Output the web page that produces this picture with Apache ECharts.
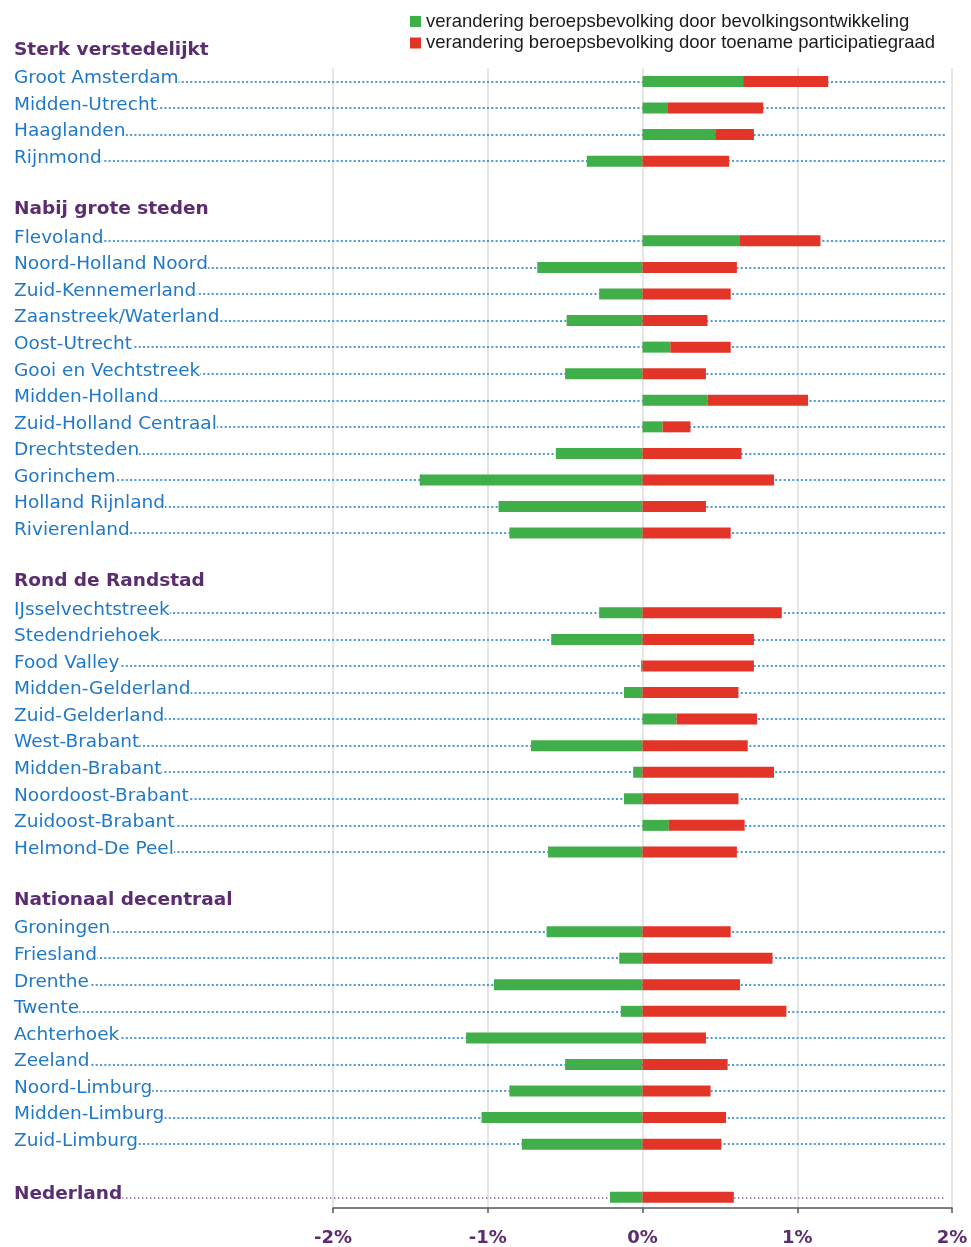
<!DOCTYPE html>
<html>
<head>
<meta charset="utf-8">
<script src="https://cdn.jsdelivr.net/npm/echarts@6/dist/echarts.min.js"></script>
<style>
  html, body { margin: 0; padding: 0; background: #fff; }
  #chart { width: 971px; height: 1247px; }
</style>
</head>
<body>
<div id="chart"></div>
<script>
// ---- data ----
const categories = [
  'Sterk verstedelijkt',
  'Groot Amsterdam', 'Midden-Utrecht', 'Haaglanden', 'Rijnmond',
  '',
  'Nabij grote steden',
  'Flevoland', 'Noord-Holland Noord', 'Zuid-Kennemerland', 'Zaanstreek/Waterland', 'Oost-Utrecht',
  'Gooi en Vechtstreek', 'Midden-Holland', 'Zuid-Holland Centraal', 'Drechtsteden', 'Gorinchem',
  'Holland Rijnland', 'Rivierenland',
  ' ',
  'Rond de Randstad',
  'IJsselvechtstreek', 'Stedendriehoek', 'Food Valley', 'Midden-Gelderland', 'Zuid-Gelderland',
  'West-Brabant', 'Midden-Brabant', 'Noordoost-Brabant', 'Zuidoost-Brabant', 'Helmond-De Peel',
  '  ',
  'Nationaal decentraal',
  'Groningen', 'Friesland', 'Drenthe', 'Twente', 'Achterhoek', 'Zeeland',
  'Noord-Limburg', 'Midden-Limburg', 'Zuid-Limburg',
  '   ',
  'Nederland'
];
const headers = ['Sterk verstedelijkt', 'Nabij grote steden', 'Rond de Randstad', 'Nationaal decentraal'];
const totalRow = 'Nederland';

// change in labour force due to population development (%)
const bevolking = [
  null,
  0.65, 0.16, 0.47, -0.36,
  null,
  null,
  0.63, -0.68, -0.28, -0.49, 0.18, -0.50, 0.42, 0.13, -0.56, -1.44, -0.93, -0.86,
  null,
  null,
  -0.28, -0.59, -0.01, -0.12, 0.22, -0.72, -0.06, -0.12, 0.17, -0.61,
  null,
  null,
  -0.62, -0.15, -0.96, -0.14, -1.14, -0.50, -0.86, -1.04, -0.78,
  null,
  -0.21
];
// change in labour force due to rising participation rate (%)
const participatie = [
  null,
  0.55, 0.62, 0.25, 0.56,
  null,
  null,
  0.52, 0.61, 0.57, 0.42, 0.39, 0.41, 0.65, 0.18, 0.64, 0.85, 0.41, 0.57,
  null,
  null,
  0.90, 0.72, 0.72, 0.62, 0.52, 0.68, 0.85, 0.62, 0.49, 0.61,
  null,
  null,
  0.57, 0.84, 0.63, 0.93, 0.41, 0.55, 0.44, 0.54, 0.51,
  null,
  0.59
];
const seriesNames = [
  'verandering beroepsbevolking door bevolkingsontwikkeling',
  'verandering beroepsbevolking door toename participatiegraad'
];
const xTicks = [-2, -1, 0, 1, 2];

// ---- styles ----
const BLUE = '#1f78c8';
const PURPLE = '#5b2c6f';
const GREEN = '#40ae49';
const RED = '#e23527';
const LABEL_FONT = 'DejaVu Sans';

const gridTop = 41.6, gridBottom = 36.4;

const leaderData = categories
  .filter(c => c.trim() !== '' && headers.indexOf(c) < 0)
  .map(c => c === totalRow
    ? { yAxis: c, lineStyle: { color: '#8f6f9c', width: 1.5, type: [1.5, 2.5] } }
    : { yAxis: c });

const chart = echarts.init(document.getElementById('chart'), null, { renderer: 'canvas' });
chart.setOption({
  animation: false,
  backgroundColor: '#fff',
  legend: {
    orient: 'vertical',
    left: 405,
    top: 7,
    itemWidth: 11,
    itemHeight: 11,
    itemGap: 2.5,
    icon: 'rect',
    selectedMode: false,
    textStyle: { fontFamily: 'Liberation Sans', fontSize: 18.5, color: '#1a1a1a' },
    data: seriesNames
  },
  grid: [
    { left: 333, right: 19, top: gridTop, bottom: gridBottom },   // bars
    { left: 14, right: 26, top: gridTop, bottom: gridBottom },    // labels + leaders
    { left: 333, right: 19, top: 68, bottom: gridBottom }         // x axis + grid lines
  ],
  xAxis: [
    { gridIndex: 0, type: 'value', min: -2, max: 2, show: false },
    { gridIndex: 1, type: 'value', min: 0, max: 1, show: false },
    {
      gridIndex: 2, type: 'value', min: -2, max: 2, interval: 1, z: 0,
      axisLine: { show: true, onZero: false, lineStyle: { color: '#555', width: 1.5 } },
      axisTick: { show: true, length: 5, lineStyle: { color: '#555', width: 1.5 } },
      splitLine: { show: true, lineStyle: { color: '#dedede', width: 1.5 } },
      axisLabel: {
        margin: 21,
        fontFamily: LABEL_FONT, fontWeight: 'bold', fontSize: 18, color: PURPLE,
        formatter: v => v + '%'
      },
      data: xTicks
    }
  ],
  yAxis: [
    { gridIndex: 0, type: 'category', inverse: true, data: categories, show: false },
    {
      gridIndex: 1, type: 'category', inverse: true, data: categories, z: 10,
      axisLine: { show: false }, axisTick: { show: false }, splitLine: { show: false },
      axisLabel: {
        inside: true, margin: 0, interval: 0,
        formatter: v => {
          if (v.trim() === '') return '';
          if (headers.indexOf(v) >= 0) return '{h|' + v + '}';
          if (v === totalRow) return '{n|' + v + '}';
          return '{r|' + v + '}';
        },
        rich: {
          h: { fontFamily: LABEL_FONT, fontSize: 18.5, fontWeight: 'bold', color: PURPLE,
               backgroundColor: '#fff', padding: [0, 0, 10, 0] },
          n: { fontFamily: LABEL_FONT, fontSize: 18.5, fontWeight: 'bold', color: PURPLE,
               backgroundColor: '#fff', padding: [0, 0, 6, 0] },
          r: { fontFamily: LABEL_FONT, fontSize: 18.5, color: BLUE,
               backgroundColor: '#fff', padding: [0, 0, 6, 0] }
        }
      }
    },
    { gridIndex: 2, type: 'category', inverse: true, data: categories, show: false }
  ],
  series: [
    {
      name: 'leaders', type: 'line', xAxisIndex: 1, yAxisIndex: 1, data: [], z: 1,
      silent: true,
      markLine: {
        z: 1, silent: true, symbol: ['none', 'none'], label: { show: false },
        lineStyle: { color: '#4a9ad8', width: 2, type: [2, 2.3] },
        emphasis: { disabled: true },
        data: leaderData
      }
    },
    {
      name: seriesNames[0], type: 'bar', stack: 'total', xAxisIndex: 0, yAxisIndex: 0,
      barWidth: 11, z: 6, itemStyle: { color: GREEN }, data: bevolking
    },
    {
      name: seriesNames[1], type: 'bar', stack: 'total', xAxisIndex: 0, yAxisIndex: 0,
      barWidth: 11, z: 6, itemStyle: { color: RED }, data: participatie
    }
  ]
});
</script>
</body>
</html>
